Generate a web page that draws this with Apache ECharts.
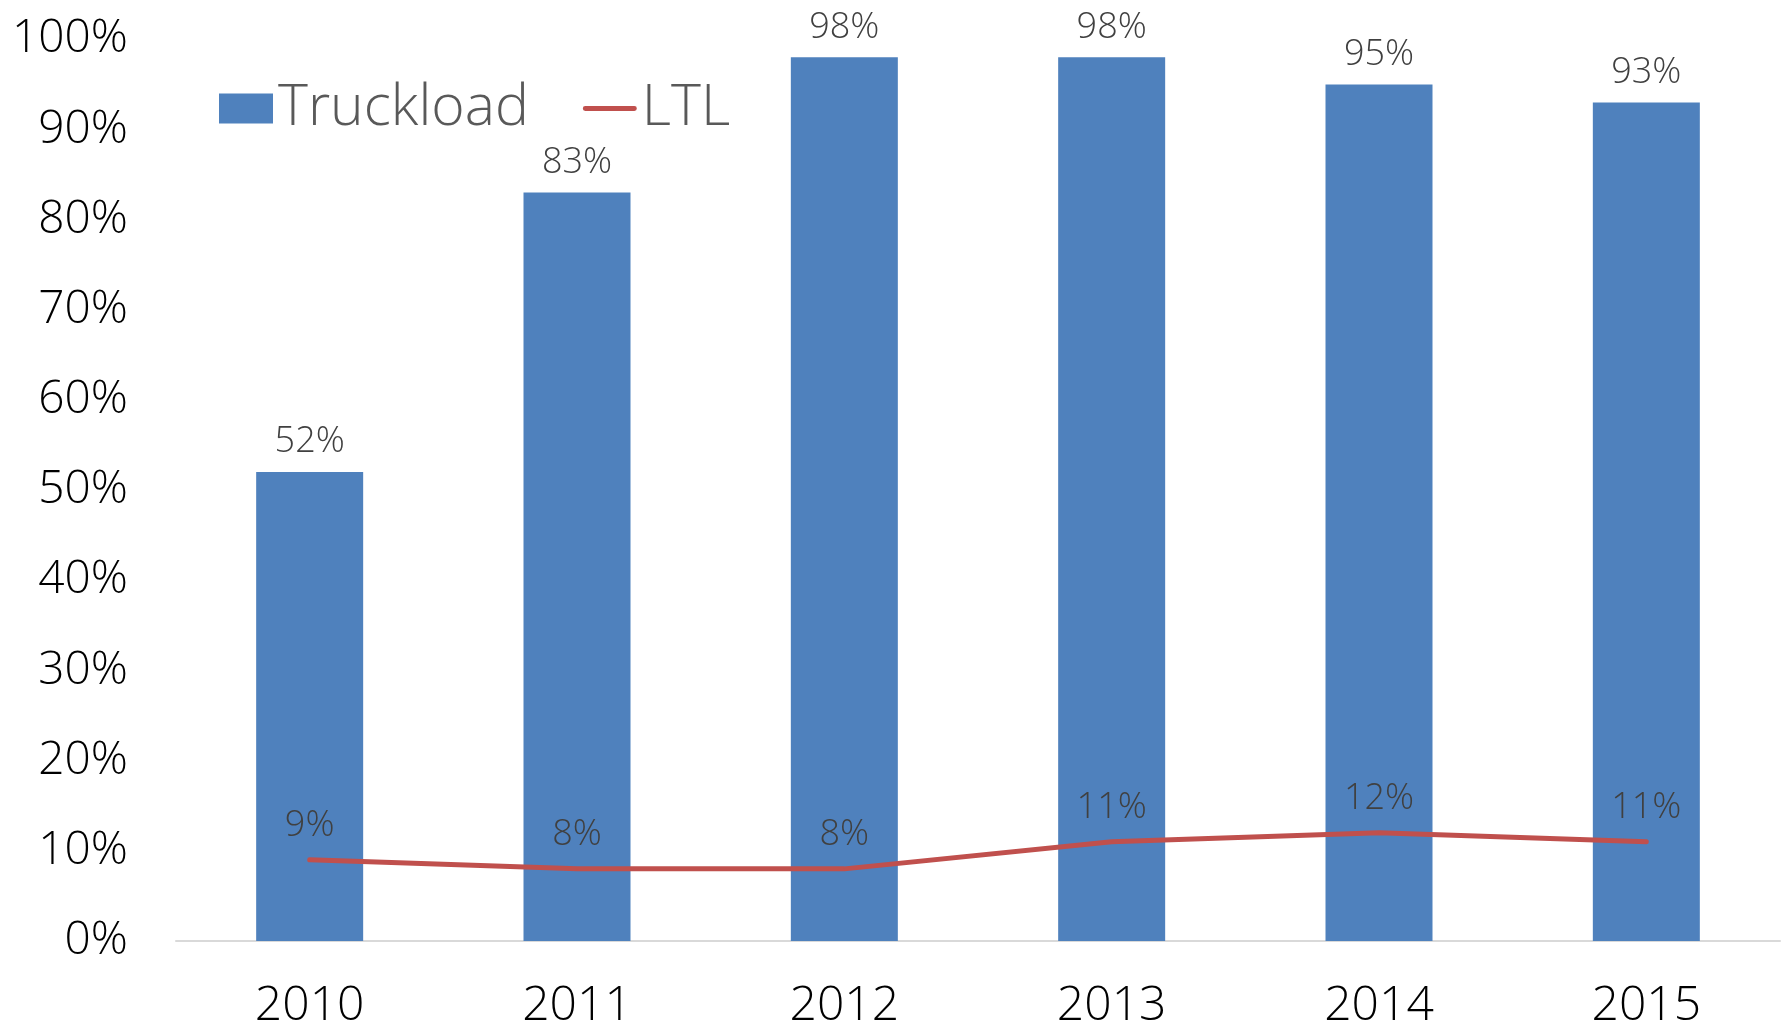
<!DOCTYPE html>
<html>
<head>
<meta charset="utf-8">
<script src="https://cdn.jsdelivr.net/npm/echarts@6/dist/echarts.min.js"></script>
<style>
html,body{margin:0;padding:0;background:#fff;}
#chart{width:1787px;height:1030px;}
</style>
</head>
<body>
<div id="chart"></div>
<script>
const categories = ['2010','2011','2012','2013','2014','2015'];
const truckload = [52, 83, 98, 98, 95, 93];
const ltl = [9, 8, 8, 11, 12, 11];
const yTicks = { min: 0, max: 100, interval: 10 };

const FONT = "'Open Sans', sans-serif";
const chart = echarts.init(document.getElementById('chart'), null, {renderer: 'canvas'});
chart.setOption({
  animation: false,
  backgroundColor: '#ffffff',
  grid: { left: 176, right: 7, top: 39.3, bottom: 86.7, containLabel: false },
  legend: {
    left: 214, top: 75,
    itemWidth: 54, itemHeight: 30, itemGap: 54,
    textStyle: { fontFamily: FONT, fontWeight: 300, fontSize: 57, color: '#595959' },
    data: [
      { name: 'Truckload', icon: 'rect' },
      { name: 'LTL', icon: 'path://M2,0 H52 A2.5,2.5 0 0 1 52,5 H2 A2.5,2.5 0 0 1 2,0 Z' }
    ]
  },
  xAxis: {
    type: 'category',
    data: categories,
    axisLine: { lineStyle: { color: '#d9d9d9', width: 2 } },
    axisTick: { show: false },
    axisLabel: { fontFamily: FONT, fontWeight: 300, fontSize: 48, color: '#000', margin: 41 }
  },
  yAxis: {
    type: 'value',
    min: yTicks.min, max: yTicks.max, interval: yTicks.interval,
    splitLine: { show: false },
    axisLine: { show: false },
    axisTick: { show: false },
    axisLabel: { fontFamily: FONT, fontWeight: 300, fontSize: 46, color: '#000', margin: 48, formatter: '{value}%' }
  },
  series: [
    {
      name: 'Truckload', type: 'bar', data: truckload, barWidth: 107,
      itemStyle: { color: '#4f81bd' },
      label: { show: true, position: 'top', distance: 12, formatter: '{c}%',
        fontFamily: FONT, fontWeight: 300, fontSize: 36, color: '#404040' }
    },
    {
      name: 'LTL', type: 'line', data: ltl, symbol: 'circle', symbolSize: 1, showSymbol: true,
      lineStyle: { color: '#c0504d', width: 5, cap: 'round' },
      itemStyle: { color: '#c0504d' },
      label: { show: true, position: 'top', distance: 16, formatter: '{c}%',
        fontFamily: FONT, fontWeight: 300, fontSize: 36, color: '#404040' }
    }
  ]
});
</script>
</body>
</html>
